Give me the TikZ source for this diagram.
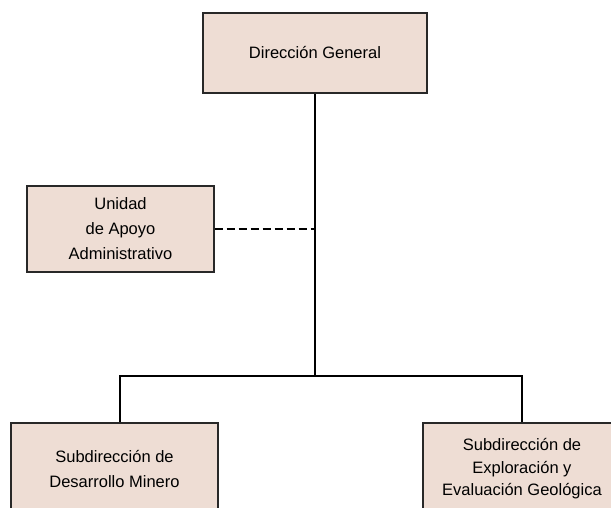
\documentclass[tikz,border=0pt]{standalone}
\usepackage{fontspec}
\setmainfont{Liberation Sans}
\definecolor{boxfill}{RGB}{238,221,212}
\definecolor{boxline}{RGB}{40,40,40}
\begin{document}
\begin{tikzpicture}[x=1pt,y=-1pt,
  orgbox/.style={draw=boxline,fill=boxfill,line width=1.2pt,align=center,inner sep=0pt,
    font=\fontsize{16.5}{25}\selectfont},
  conn/.style={line width=1.5pt,black},
  dashconn/.style={line width=1.8pt,black,dash pattern=on 8pt off 4pt}]
\useasboundingbox (0,0) rectangle (611,508);
\begin{scope}
\clip (0,0) rectangle (611,508);
\node[orgbox,minimum width=224pt,minimum height=80pt] (dg) at (315,53) {Dirección General};
\node[orgbox,minimum width=187pt,minimum height=86pt] (ua) at (120.5,229) {Unidad\\de Apoyo\\Administrativo};
\node[orgbox,minimum width=207pt,minimum height=93pt] (sdm) at (114.5,469.5) {Subdirección de\\Desarrollo Minero};
\node[orgbox,minimum width=198pt,minimum height=92pt,font=\fontsize{16.5}{22.5}\selectfont] (sde) at (522,469) {Subdirección de\\Exploración y\\Evaluación Geológica};
\coordinate (j) at (315,376);
\coordinate (jl) at (120,376);
\coordinate (jr) at (522,376);
\draw[conn] (dg.south) -- (j);
\draw[dashconn] (ua.east) -- (ua.east -| j);
\draw[conn] (sdm.north -| jl) -- (jl) -- (jr) -- (sde.north);
\end{scope}
\end{tikzpicture}
\end{document}
